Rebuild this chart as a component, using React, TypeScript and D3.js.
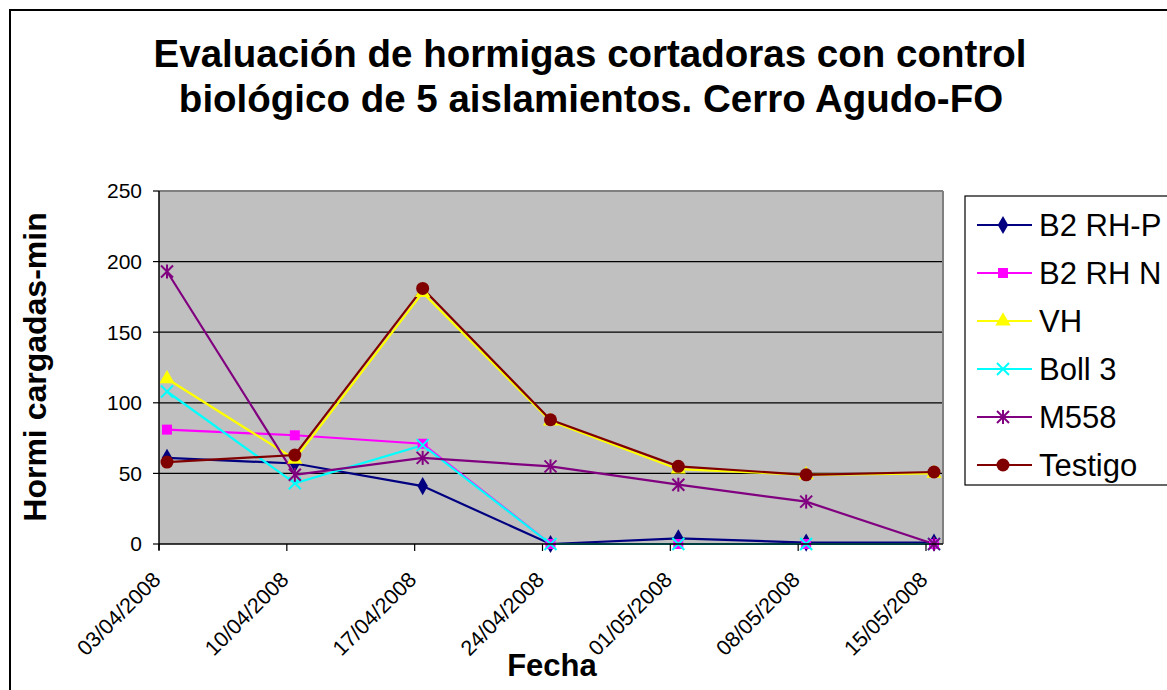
import React from "react";
import { scaleLinear, scalePoint, line, symbol, symbolDiamond, symbolSquare, symbolTriangle } from "d3";

const fechas = ["03/04/2008", "10/04/2008", "17/04/2008", "24/04/2008", "01/05/2008", "08/05/2008", "15/05/2008"];
const yTicks = [0, 50, 100, 150, 200, 250];

const b2rhp = [61, 57, 41, 0, 4, 1, 1];
const b2rhn = [81, 77, 71, 0, 0, 0, 0];
const vh = [117, 60, 178, 87, 53, 49, 50];
const boll3 = [108, 43, 70, 0, 0, 0, 0];
const m558 = [193, 49, 61, 55, 42, 30, 0];
const testigo = [58, 63, 181, 88, 55, 49, 51];

const series = [
  { name: "B2 RH-P", values: b2rhp, color: "#000080", marker: "diamond" },
  { name: "B2 RH N", values: b2rhn, color: "#FF00FF", marker: "square" },
  { name: "VH", values: vh, color: "#FFFF00", marker: "triangle" },
  { name: "Boll 3", values: boll3, color: "#00FFFF", marker: "x" },
  { name: "M558", values: m558, color: "#800080", marker: "star" },
  { name: "Testigo", values: testigo, color: "#800000", marker: "circle" },
];

const font = "'Liberation Sans', Arial, sans-serif";

function Marker({ type, x, y, color }: { type: string; x: number; y: number; color: string }) {
  if (type === "diamond") return <path transform={`translate(${x},${y})`} d={symbol(symbolDiamond, 95)()!} fill={color} />;
  if (type === "square") return <path transform={`translate(${x},${y})`} d={symbol(symbolSquare, 100)()!} fill={color} />;
  if (type === "triangle") return <path transform={`translate(${x},${y})`} d={symbol(symbolTriangle, 100)()!} fill={color} />;
  if (type === "circle") return <circle cx={x} cy={y} r={6.5} fill={color} />;
  const s = 6;
  return (
    <g stroke={color} strokeWidth={2}>
      <line x1={x - s} y1={y - s} x2={x + s} y2={y + s} />
      <line x1={x - s} y1={y + s} x2={x + s} y2={y - s} />
      {type === "star" && <line x1={x} y1={y - s - 1} x2={x} y2={y + s + 1} />}
    </g>
  );
}

export default function App() {
  const width = 1167;
  const height = 690;
  const plot = { left: 159, top: 191, right: 943, bottom: 544 };
  const pointShift = 8;

  const x = scalePoint<string>().domain(fechas).range([plot.left, 926]);
  const y = scaleLinear().domain([0, 250]).range([plot.bottom, plot.top]);

  const path = line<number>()
    .x((_, i) => x(fechas[i])! + pointShift)
    .y((d) => y(d));

  const legend = { x: 965, y: 196, w: 260, h: 289, row: 48 };

  return (
    <div style={{ position: "fixed", left: 0, top: 0 }}>
      <svg width={width} height={height} style={{ display: "block", fontFamily: font }}>
        <rect x={0} y={0} width={width} height={height} fill="#fff" />
        <rect x={10} y={10} width={width + 20} height={height + 20} fill="none" stroke="#000" strokeWidth={2} />

        <text x={590} y={67} textAnchor="middle" fontSize={38.5} fontWeight="bold">
          Evaluación de hormigas cortadoras con control
        </text>
        <text x={591} y={112} textAnchor="middle" fontSize={38.5} fontWeight="bold">
          biológico de 5 aislamientos. Cerro Agudo-FO
        </text>

        <rect x={plot.left} y={plot.top} width={plot.right - plot.left} height={plot.bottom - plot.top} fill="#C0C0C0" />
        {yTicks.slice(1, -1).map((t) => (
          <line key={t} x1={plot.left} x2={plot.right} y1={y(t)} y2={y(t)} stroke="#000" strokeWidth={1.2} />
        ))}
        <line x1={plot.left} x2={plot.right} y1={plot.top} y2={plot.top} stroke="#808080" strokeWidth={2} />
        <line x1={plot.right} x2={plot.right} y1={plot.top} y2={plot.bottom} stroke="#808080" strokeWidth={2} />

        {series.map((s) => (
          <path key={s.name} d={path(s.values)!} fill="none" stroke={s.color} strokeWidth={2.2} />
        ))}
        {series.map((s) =>
          s.values.map((v, i) => (
            <Marker key={s.name + i} type={s.marker} x={x(fechas[i])! + pointShift} y={y(v)} color={s.color} />
          ))
        )}

        <line x1={plot.left} x2={plot.left} y1={plot.top} y2={plot.bottom + 6} stroke="#000" strokeWidth={1.5} />
        <line x1={plot.left} x2={plot.right} y1={plot.bottom} y2={plot.bottom} stroke="#000" strokeWidth={1.5} />
        {yTicks.map((t) => (
          <g key={t}>
            <line x1={plot.left - 6} x2={plot.left} y1={y(t)} y2={y(t)} stroke="#000" strokeWidth={1.2} />
            <text x={142} y={y(t)} dy="0.35em" textAnchor="end" fontSize={21}>
              {t}
            </text>
          </g>
        ))}
        {fechas.map((f) => (
          <g key={f}>
            <line x1={x(f)!} x2={x(f)!} y1={plot.bottom} y2={plot.bottom + 7} stroke="#000" strokeWidth={1.2} />
            <text
              transform={`translate(${x(f)! + 3},${plot.bottom + 37}) rotate(-45)`}
              textAnchor="end"
              fontSize={21.5}
            >
              {f}
            </text>
          </g>
        ))}

        <text transform="translate(46,367) rotate(-90)" textAnchor="middle" fontSize={32} fontWeight="bold">
          Hormi cargadas-min
        </text>
        <text x={552} y={676} textAnchor="middle" fontSize={31} fontWeight="bold">
          Fecha
        </text>

        <rect x={legend.x} y={legend.y} width={legend.w} height={legend.h} fill="#fff" stroke="#000" strokeWidth={1.2} />
        {series.map((s, i) => {
          const cy = legend.y + 29 + i * legend.row;
          return (
            <g key={s.name}>
              <line x1={977} x2={1032} y1={cy} y2={cy} stroke={s.color} strokeWidth={2} />
              <Marker type={s.marker} x={1003} y={cy} color={s.color} />
              <text x={1039} y={cy} dy="0.36em" fontSize={31}>
                {s.name}
              </text>
            </g>
          );
        })}
      </svg>
    </div>
  );
}
